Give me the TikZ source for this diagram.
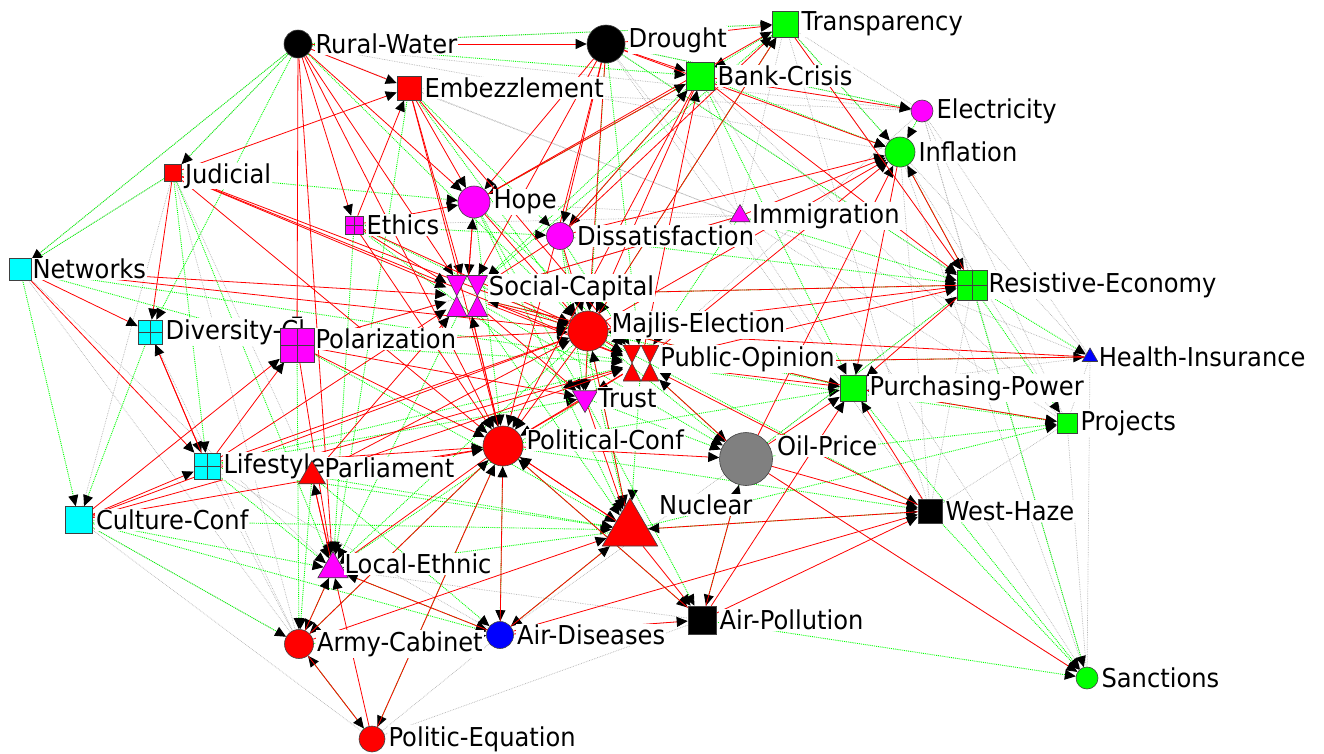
\documentclass[tikz,border=0pt]{standalone}
\usepackage{fontspec}
\setmainfont[FakeStretch=0.93]{DejaVu Sans}
\usetikzlibrary{arrows.meta,positioning,shapes.geometric}
\pgfdeclarelayer{background}
\pgfsetlayers{background,main}
\definecolor{Lime}{HTML}{00FF00}
\definecolor{Pink}{HTML}{FF00FF}
\definecolor{Aqua}{HTML}{00FFFF}
\definecolor{Pure}{HTML}{FF0000}

\tikzset{
  nd/.style={draw=black!75,line width=0.6pt,inner sep=0pt},
  circ/.style={nd,circle},
  sq/.style={nd,rectangle},
  gridsq/.style={sq,path picture={\draw[black!75,line width=0.6pt]
      (path picture bounding box.north)--(path picture bounding box.south)
      (path picture bounding box.west)--(path picture bounding box.east);}},
  tri/.style={nd,regular polygon,regular polygon sides=3},
  glass/.style={inner sep=0pt,rectangle,path picture={\filldraw[fill=#1,draw=black!75,line width=0.6pt]
      (path picture bounding box.north west)--(path picture bounding box.north east)--(path picture bounding box.south)--cycle
      (path picture bounding box.south west)--(path picture bounding box.south east)--(path picture bounding box.north)--cycle;}},
  lbl/.style={fill=white,inner sep=1pt,font=\fontsize{26}{28}\selectfont},
  tip/.style={-{Triangle[length=11pt,width=10pt,black]}},
  redln/.style={tip,Pure,line width=0.8pt},
  grnln/.style={tip,Lime,densely dotted,line width=0.9pt},
  gryln/.style={black!30,densely dotted,line width=0.7pt}
}

\begin{document}
\begin{tikzpicture}[x=1pt,y=-1pt,node distance=2pt]
  \useasboundingbox (0,0) rectangle (1324,753);
  % nodes
  \node[circ,fill=black,minimum size=28pt] (rw) at (298,44) {};
  \node[lbl,right=of rw] (rw-t) {Rural-Water};
  \node[circ,fill=black,minimum size=38pt] (dr) at (606,44) {};
  \node[lbl,right=of dr,yshift=4pt] (dr-t) {Drought};
  \node[sq,fill=Lime,minimum size=26pt] (tr) at (785,24) {};
  \node[lbl,right=of tr] (tr-t) {Transparency};
  \node[sq,fill=Lime,minimum size=28pt] (bc) at (700,76) {};
  \node[lbl,right=of bc] (bc-t) {Bank-Crisis};
  \node[sq,fill=Pure,minimum size=24pt] (em) at (409,88) {};
  \node[lbl,right=of em] (em-t) {Embezzlement};
  \node[circ,fill=Pink,minimum size=22pt] (el) at (922,111) {};
  \node[lbl,right=of el] (el-t) {Electricity};
  \node[circ,fill=Lime,minimum size=30pt] (inf) at (900,152) {};
  \node[lbl,right=of inf] (inf-t) {Inflation};
  \node[sq,fill=Pure,minimum size=17pt] (jud) at (173,173) {};
  \node[lbl,right=of jud,yshift=-3pt] (jud-t) {Judicial};
  \node[circ,fill=Pink,minimum size=32pt] (hope) at (474,202) {};
  \node[lbl,right=of hope] (hope-t) {Hope};
  \node[gridsq,fill=Pink,minimum size=18pt] (eth) at (354,225) {};
  \node[lbl,right=of eth] (eth-t) {Ethics};
  \node[tri,fill=Pink,minimum size=23pt] (imm) at (740,216) {};
  \node[lbl,right=4pt of imm] (imm-t) {Immigration};
  \node[circ,fill=Pink,minimum size=27pt] (dis) at (560,236) {};
  \node[lbl,right=of dis] (dis-t) {Dissatisfaction};
  \node[sq,fill=Aqua,minimum size=22pt] (net) at (20,269) {};
  \node[lbl,right=0pt of net] (net-t) {Networks};
  \node[glass=Pink,minimum size=41pt] (sc) at (467,296) {};
  \node[lbl,right=0pt of sc,yshift=8pt] (sc-t) {Social-Capital};
  \node[gridsq,fill=Lime,minimum size=30pt] (re) at (972,285) {};
  \node[lbl,right=0pt of re] (re-t) {Resistive-Economy};
  \node[circ,fill=Pure,minimum size=40pt] (me) at (588,331) {};
  \node[lbl,right=of me,yshift=6pt] (me-t) {Majlis-Election};
  \node[gridsq,fill=Aqua,minimum size=24pt] (div) at (150,332) {};
  \node[lbl,right=of div] (div-t) {Diversity-Cl};
  \node[gridsq,fill=Pink,minimum size=34pt] (pol) at (297,345) {};
  \node[lbl,right=0pt of pol,yshift=6pt] (pol-t) {Polarization};
  \node[glass=Pure,minimum size=36pt] (po) at (641,363) {};
  \node[lbl,right=0pt of po,yshift=4pt] (po-t) {Public-Opinion};
  \node[tri,fill=blue,minimum size=18pt] (hi) at (1090,357) {};
  \node[lbl,right=2pt of hi] (hi-t) {Health-Insurance};
  \node[sq,fill=Lime,minimum size=26pt] (pp) at (853,388) {};
  \node[lbl,right=of pp] (pp-t) {Purchasing-Power};
  \node[tri,fill=Pink,shape border rotate=180,minimum size=29pt] (tru) at (585,398) {};
  \node[lbl,right=3pt of tru] (tru-t) {Trust};
  \node[sq,fill=Lime,minimum size=20pt] (proj) at (1067,423) {};
  \node[lbl,right=of proj] (proj-t) {Projects};
  \node[circ,fill=Pure,minimum size=40pt] (pc) at (503,446) {};
  \node[lbl,right=of pc,yshift=6pt] (pc-t) {Political-Conf};
  \node[circ,fill=gray,minimum size=53pt] (oil) at (746,459) {};
  \node[lbl,right=3pt of oil,yshift=13pt] (oil-t) {Oil-Price};
  \node[gridsq,fill=Aqua,minimum size=26pt] (life) at (207,466) {};
  \node[lbl,right=of life] (life-t) {Lifestyle};
  \node[tri,fill=Pure,minimum size=31pt] (parl) at (312,476) {};
  \node[lbl,right=2pt of parl,yshift=8pt] (parl-t) {Parliament};
  \node[sq,fill=Aqua,minimum size=27pt] (cc) at (79,520) {};
  \node[lbl,right=of cc] (cc-t) {Culture-Conf};
  \node[tri,fill=Pure,minimum size=64pt] (nuc) at (630,530) {};
  \node[lbl,anchor=west] (nuc-t) at (658,505) {Nuclear};
  \node[sq,fill=black,minimum size=24pt] (wh) at (930,511) {};
  \node[lbl,right=of wh] (wh-t) {West-Haze};
  \node[tri,fill=Pink,minimum size=35pt] (le) at (333,569) {};
  \node[lbl,right=0pt of le,yshift=5pt] (le-t) {Local-Ethnic};
  \node[sq,fill=black,minimum size=28pt] (ap) at (702,620) {};
  \node[lbl,right=of ap] (ap-t) {Air-Pollution};
  \node[circ,fill=Pure,minimum size=29pt] (ac) at (299,644) {};
  \node[lbl,right=of ac] (ac-t) {Army-Cabinet};
  \node[circ,fill=blue,minimum size=27pt] (ad) at (500,635) {};
  \node[lbl,right=of ad] (ad-t) {Air-Diseases};
  \node[circ,fill=Lime,minimum size=22pt] (san) at (1087,678) {};
  \node[lbl,right=of san] (san-t) {Sanctions};
  \node[circ,fill=Pure,minimum size=26pt] (peq) at (372,739) {};
  \node[lbl,right=of peq] (peq-t) {Politic-Equation};
  % links
  \begin{pgfonlayer}{background}
    \foreach \u/\v in {net/jud,net/rw,net/ac,net/le,jud/rw,jud/ac,jud/parl,jud/cc,rw/tr,rw/inf,rw/el,rw/imm,
        dr/el,dr/imm,dr/re,tr/el,tr/inf,tr/imm,tr/re,bc/el,bc/imm,bc/proj,el/re,el/hi,el/proj,el/po,
        inf/hi,inf/proj,inf/wh,imm/pp,imm/hi,imm/proj,re/oil,re/wh,hi/pp,hi/proj,hi/san,proj/wh,
        proj/san,oil/san,cc/peq,cc/ac,ac/peq,div/ac,life/ac,life/ad,le/ap,ad/ap,ad/oil,peq/ad,peq/ap,
        sc/imm,hope/imm,eth/imm,em/el,em/imm,pol/imm,dr/wh,tr/wh,bc/san,el/san,inf/san}
      \draw[gryln] (\u)--(\v);
    \foreach \u/\v in {rw/jud,rw/net,rw/div,rw/tr,rw/bc,rw/me,dr/po,dr/re,dr/el,dr/tru,tr/bc,tr/inf,
        tr/sc,tr/me,bc/sc,bc/hope,bc/dis,bc/pp,bc/inf,em/me,em/dis,em/le,jud/net,jud/life,jud/hope,
        jud/le,net/cc,net/pol,net/po,div/cc,cc/le,cc/ac,cc/ad,cc/nuc,life/le,life/po,life/nuc,
        life/tru,pol/po,pol/nuc,pol/ac,eth/po,eth/tru,eth/dis,eth/le,hope/po,hope/tru,hope/nuc,
        hope/pc,dis/po,dis/nuc,dis/tru,dis/re,sc/nuc,sc/le,sc/oil,sc/pp,sc/re,me/nuc,me/le,me/pp,
        me/oil,me/wh,po/nuc,po/oil,po/proj,po/hi,tru/le,tru/ap,tru/oil,pc/ap,pc/ad,pc/ac,pc/peq,
        pc/pp,pc/wh,nuc/ad,nuc/le,nuc/proj,nuc/wh,oil/ap,oil/proj,oil/re,re/proj,re/hi,re/san,
        pp/san,proj/pp,le/ac,le/ad,ac/ad,peq/ac,imm/re,imm/po,inf/re,el/inf,parl/ac,parl/ad,
        parl/nuc,wh/san,ap/san}
      \draw[grnln] (\u)--(\v);
    \foreach \u/\v in {rw/dr,rw/em,rw/sc,rw/pol,rw/hope,rw/pc,rw/le,rw/eth,dr/tr,dr/bc,dr/sc,
        dr/hope,dr/pc,dr/inf,dr/me,dr/dis,em/hope,em/sc,em/pc,jud/em,em/po,jud/sc,jud/me,jud/div,
        jud/po,jud/pc,net/div,net/life,net/sc,net/me,div/life,life/div,life/pol,life/sc,life/me,
        life/pc,cc/life,cc/pc,cc/me,cc/pol,cc/po,eth/sc,eth/em,eth/me,eth/pc,eth/hope,hope/sc,
        hope/me,hope/tr,hope/bc,dis/sc,dis/me,dis/bc,dis/tr,dis/inf,sc/me,sc/pc,sc/po,sc/tru,
        sc/hope,me/po,me/pc,me/tr,me/inf,me/re,me/tru,po/tru,po/pc,po/bc,po/inf,po/re,po/pp,
        pol/sc,pol/me,pol/pc,pol/le,pol/tru,parl/le,le/parl,parl/sc,parl/me,parl/pc,parl/po,
        pc/nuc,pc/le,pc/oil,pc/sc,nuc/ap,ad/nuc,nuc/pc,nuc/me,ad/pc,ad/le,ad/ap,ad/wh,ap/pc,
        ap/wh,ap/pp,ap/oil,ac/le,ac/pc,ac/peq,peq/le,peq/pc,ac/nuc,oil/wh,oil/pp,oil/inf,oil/san,
        oil/po,wh/po,wh/pp,wh/nuc,pp/proj,re/inf,bc/re,bc/el,imm/inf,imm/sc,hi/po,hi/me,pp/sc,
        inf/pp,tr/re,tru/nuc,tru/pc,re/pp,re/sc,bc/me,bc/pc}
      \draw[redln] (\u)--(\v);
  \end{pgfonlayer}
\end{tikzpicture}
\end{document}
